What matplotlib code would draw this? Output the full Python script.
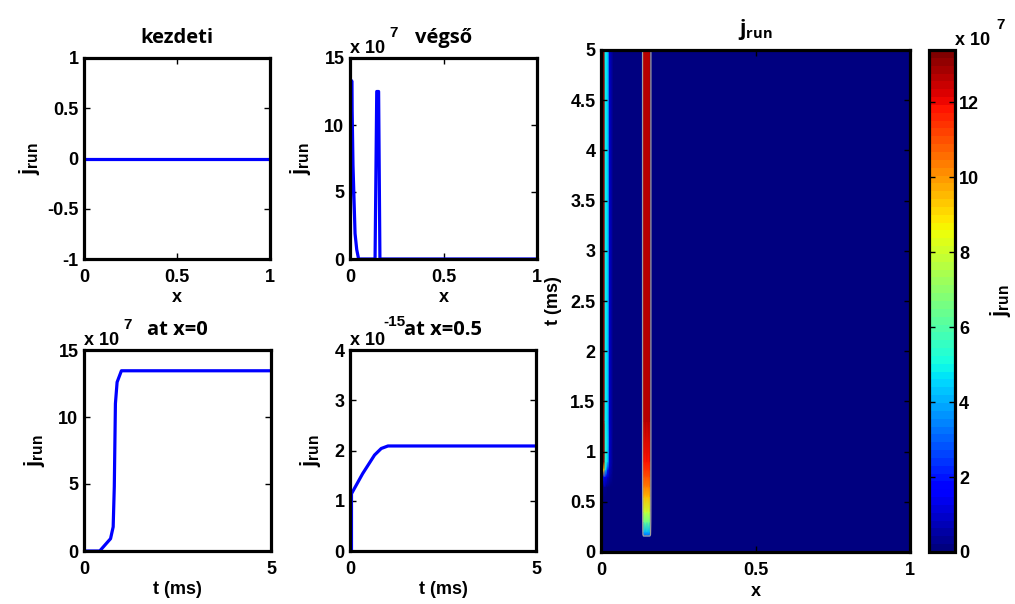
import numpy as np
import matplotlib
matplotlib.use('Agg')
import matplotlib.pyplot as plt

plt.rcParams['font.family'] = ['Liberation Sans', 'DejaVu Sans']
plt.rcParams['font.weight'] = 'bold'
plt.rcParams['mathtext.fontset'] = 'custom'
plt.rcParams['mathtext.rm'] = 'Open Sans'
plt.rcParams['mathtext.bf'] = 'Liberation Sans:bold'

# initial profile (kezdeti)
x_init = [0.0, 1.0]
j_init = [0.0, 0.0]

# final profile (vegso), units of 1e7
x_final = [0.0, 0.009, 0.016, 0.027, 0.036, 0.046, 0.134, 0.143, 0.153, 0.16, 1.0]
j_final = [0.0, 13.3, 7.0, 1.9, 0.7, 0.0, 0.0, 12.5, 12.5, 0.0, 0.0]

# time trace at x=0, units of 1e7
t_x0 = [0.0, 0.42, 0.71, 0.78, 0.81, 0.84, 0.885, 1.0, 5.0]
j_x0 = [0.0, 0.0, 0.92, 1.8, 4.8, 11.0, 12.6, 13.45, 13.45]

# time trace at x=0.5, units of 1e-15
t_x05 = [0.0, 0.04, 0.04, 0.34, 0.66, 0.84, 1.02, 5.0]
j_x05 = [0.0, 0.0, 1.14, 1.54, 1.91, 2.04, 2.09, 2.09]

# j_run(x, t) on a coarse node grid, units of 1e7
map_x = [0.0, 0.011, 0.014, 0.022, 0.028, 0.04, 0.134, 0.138, 0.148, 0.158, 0.162, 1.0]
map_t = [0.0, 0.15, 0.17, 0.2, 0.3, 0.4, 0.55, 0.65, 0.75, 0.82, 0.9, 1.3, 5.0]
left_strip = [
    [0.0, 0.0, 0.0, 0.0, 0.0, 0.0],
    [0.0, 0.0, 0.0, 0.0, 0.0, 0.0],
    [0.0, 0.0, 0.0, 0.0, 0.0, 0.0],
    [0.0, 0.0, 0.0, 0.0, 0.0, 0.0],
    [0.0, 0.0, 0.0, 0.0, 0.0, 0.0],
    [0.0, 0.0, 0.0, 0.0, 0.0, 0.0],
    [0.0, 0.0, 0.0, 0.0, 0.0, 0.0],
    [0.3, 0.3, 0.3, 0.2, 0.1, 0.0],
    [1.5, 2.0, 1.5, 1.0, 0.5, 0.0],
    [8.5, 9.5, 5.0, 2.0, 0.8, 0.0],
    [13.4, 13.4, 5.5, 4.5, 1.0, 0.0],
    [13.4, 13.4, 5.0, 4.5, 1.0, 0.0],
    [13.4, 13.4, 5.0, 4.5, 1.0, 0.0],
]
mid_profile = [0.0, 12.6, 12.6, 12.6, 0.0]
mid_growth = [0.0, 0.0, 0.25, 0.32, 0.5, 0.63, 0.75, 0.82, 0.88, 0.91, 0.94, 1.0, 1.0]

LW = 2.3
TICK_FS = 13
LABEL_FS = 13
TITLE_FS = 14.5
JRUN = r'$\mathbf{j}_{\mathbf{run}}$'


def frame(ax):
    for s in ax.spines.values():
        s.set_linewidth(LW)
        s.set_color('black')
    ax.tick_params(direction='in', top=True, right=True, length=4, width=1,
                   labelsize=TICK_FS, pad=4)
    ax.tick_params(axis='x', pad=7)


def fmt(ax):
    ax.set_xticklabels(['%g' % v for v in ax.get_xticks()])
    ax.set_yticklabels(['%g' % v for v in ax.get_yticks()])


def sci(ax, exp, xe=28, ye=15, anchor=(0, 1)):
    ax.annotate('x 10', xy=anchor, xycoords='axes fraction', xytext=(0, 3.5),
                textcoords='offset points', ha='left', va='baseline',
                fontsize=TICK_FS, fontweight='bold', annotation_clip=False)
    ax.annotate(exp, xy=anchor, xycoords='axes fraction', xytext=(xe, ye),
                textcoords='offset points', ha='left', va='baseline',
                fontsize=TICK_FS - 2, fontweight='bold', annotation_clip=False)


def title(ax, s):
    ax.set_title(s, fontsize=TITLE_FS, fontweight='bold', family='Open Sans', pad=11)


def jlabel(ax, pad):
    ax.set_ylabel(JRUN, fontsize=16, labelpad=pad)


W, H = 1015, 604


def box(l, r, t, b):
    return [l / W, 1 - b / H, (r - l) / W, (b - t) / H]


fig = plt.figure(figsize=(W / 100, H / 100), dpi=100)

# top left: initial profile
ax1 = fig.add_axes(box(84, 270, 58, 259))
ax1.plot(x_init, j_init, color='blue', lw=LW)
ax1.set_xlim(0, 1)
ax1.set_ylim(-1, 1)
ax1.set_xticks([0, 0.5, 1])
ax1.set_yticks([-1, -0.5, 0, 0.5, 1])
fmt(ax1)
frame(ax1)
ax1.set_xlabel('x', fontsize=LABEL_FS, fontweight='bold', labelpad=2)
jlabel(ax1, 4)
title(ax1, 'kezdeti')

# top middle: final profile
ax2 = fig.add_axes(box(350, 537, 58, 259))
ax2.plot(x_final, j_final, color='blue', lw=LW)
ax2.set_xlim(0, 1)
ax2.set_ylim(0, 15)
ax2.set_xticks([0, 0.5, 1])
ax2.set_yticks([0, 5, 10, 15])
fmt(ax2)
frame(ax2)
ax2.set_xlabel('x', fontsize=LABEL_FS, fontweight='bold', labelpad=2)
jlabel(ax2, 8)
title(ax2, 'végső')
sci(ax2, '7')

# bottom left: time trace at x=0
ax3 = fig.add_axes(box(84, 271, 350, 551))
ax3.plot(t_x0, j_x0, color='blue', lw=LW)
ax3.set_xlim(0, 5)
ax3.set_ylim(0, 15)
ax3.set_xticks([0, 5])
ax3.set_yticks([0, 5, 10, 15])
fmt(ax3)
frame(ax3)
ax3.set_xlabel('t (ms)', fontsize=LABEL_FS, fontweight='bold', labelpad=2)
jlabel(ax3, 8)
title(ax3, 'at x=0')
sci(ax3, '7')

# bottom middle: time trace at x=0.5
ax4 = fig.add_axes(box(350, 536, 350, 551))
ax4.plot(t_x05, j_x05, color='blue', lw=LW)
ax4.set_xlim(0, 5)
ax4.set_ylim(0, 4)
ax4.set_xticks([0, 5])
ax4.set_yticks([0, 1, 2, 3, 4])
fmt(ax4)
frame(ax4)
ax4.set_xlabel('t (ms)', fontsize=LABEL_FS, fontweight='bold', labelpad=2)
jlabel(ax4, 8)
sci(ax4, '-15', xe=24, ye=17)
title(ax4, 'at x=0.5')

# right: j_run(x, t) map
mid = np.outer(mid_growth, mid_profile)
J = np.hstack([np.array(left_strip), mid, np.zeros((len(map_t), 1))])
X, T = np.meshgrid(map_x, map_t)

ax5 = fig.add_axes(box(601, 910, 50, 552))
cmap = plt.get_cmap('jet', 64)
mesh = ax5.pcolormesh(X, T, J, shading='gouraud', cmap=cmap, vmin=0, vmax=13.4)
ax5.contour(X[:, 5:], T[:, 5:], J[:, 5:], levels=[1.5], colors='#a0a0a0', linewidths=0.9)
ax5.set_xlim(0, 1)
ax5.set_ylim(0, 5)
ax5.set_xticks([0, 0.5, 1])
ax5.set_yticks(np.arange(0, 5.01, 0.5))
fmt(ax5)
frame(ax5)
ax5.set_xlabel('x', fontsize=LABEL_FS, fontweight='bold', labelpad=3)
ax5.set_ylabel('t (ms)', fontsize=LABEL_FS, fontweight='bold', labelpad=6)
ax5.set_title(r'$\mathrm{j}_{\mathrm{run}}$', fontsize=15, pad=11)

cax = fig.add_axes(box(929, 955, 50, 552))
cb = fig.colorbar(mesh, cax=cax, ticks=[0, 2, 4, 6, 8, 10, 12])
cb.outline.set_linewidth(LW)
cax.tick_params(direction='in', left=True, right=True, length=4, width=1,
                labelsize=TICK_FS, pad=3)
cax.set_yticklabels(['%g' % v for v in [0, 2, 4, 6, 8, 10, 12]])
cb.set_label(JRUN, fontsize=16, labelpad=6)
sci(cax, '7', xe=30, ye=15, anchor=(1, 1))

fig.savefig('out.png', dpi=100)
